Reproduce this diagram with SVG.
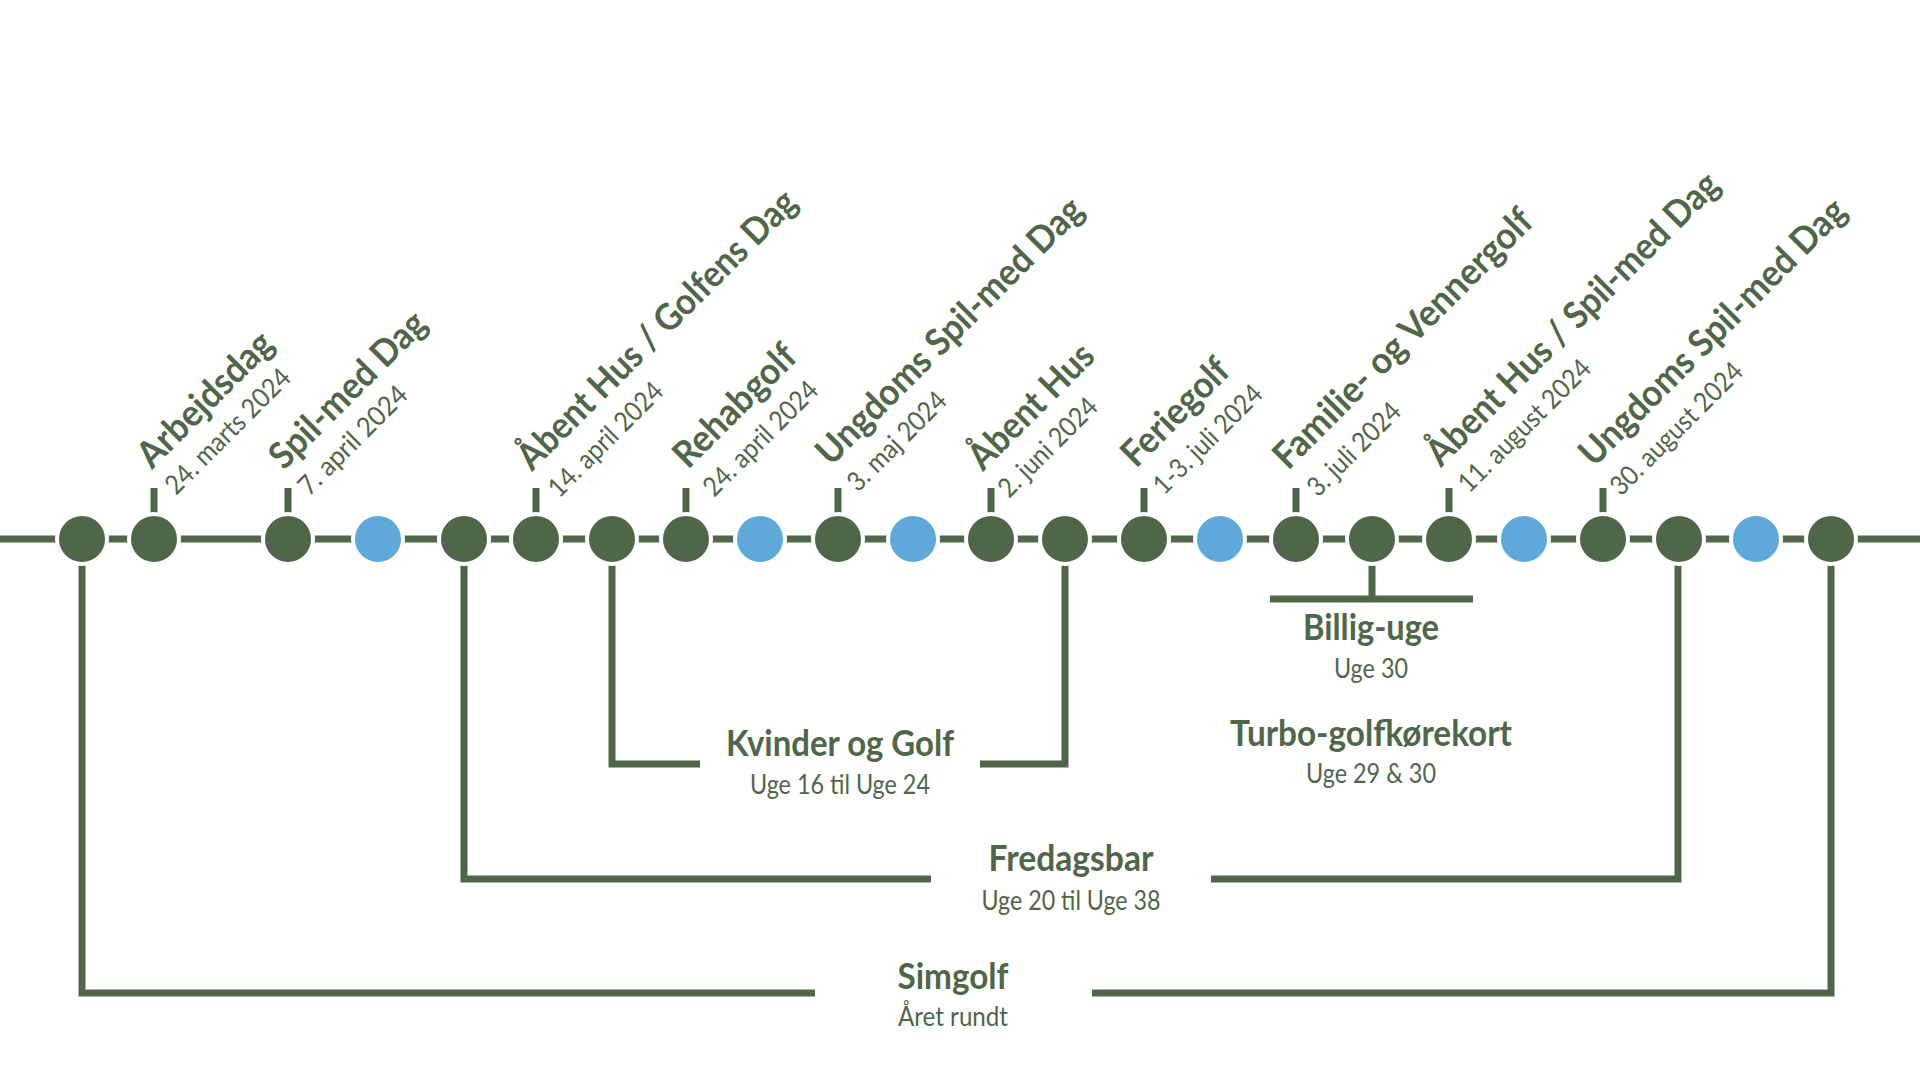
<svg xmlns="http://www.w3.org/2000/svg" width="1920" height="1080" viewBox="0 0 1920 1080">
<style>
.ln{stroke:#4F6649;stroke-width:7;fill:none;stroke-linecap:butt;stroke-linejoin:miter}
.dot{fill:#4F6649;stroke:#FFFFFF;stroke-width:4}
.blue{fill:#5FA8DA;stroke:#FFFFFF;stroke-width:4}
text{font-family:Lato,"Open Sans","Liberation Sans",sans-serif;fill:#4F6649}
.b{font-weight:700;font-size:37px}
.r{font-weight:400;font-size:27px}
.hb{font-weight:700;font-size:36px;text-anchor:middle}
.hr{font-weight:400;font-size:26px;text-anchor:middle}
</style>
<rect width="1920" height="1080" fill="#FFFFFF"/>
<g id="connectors">
  <path class="ln" d="M0 539 H1920"/>
  <path class="ln" d="M154 488 V516 M288 488 V516 M536 488 V516 M686 488 V516 M838 488 V516 M991 488 V516 M1144 488 V516 M1296 488 V516 M1449 488 V516 M1603 488 V516"/>
  <path class="ln" d="M82 539 V993 H815 M1092 993 H1831 V539"/>
  <path class="ln" d="M464 539 V879 H931 M1211 879 H1678 V539"/>
  <path class="ln" d="M612 539 V764 H700 M980 764 H1065 V539"/>
  <path class="ln" d="M1372 539 V599 M1270 599 H1473"/>
</g>
<g id="n01"><circle class="dot" cx="82" cy="539" r="25"/></g>
<g id="n02"><circle class="dot" cx="154" cy="539" r="25"/>
  <text class="b" transform="translate(152 470) rotate(-45)" textLength="175" lengthAdjust="spacingAndGlyphs">Arbejdsdag</text>
  <text class="r" transform="translate(176 496) rotate(-45)" textLength="165" lengthAdjust="spacingAndGlyphs">24. marts 2024</text></g>
<g id="n03"><circle class="dot" cx="288" cy="539" r="25"/>
  <text class="b" transform="translate(284 471) rotate(-45)" textLength="205" lengthAdjust="spacingAndGlyphs">Spil-med Dag</text>
  <text class="r" transform="translate(309 497) rotate(-45)" textLength="142" lengthAdjust="spacingAndGlyphs">7. april 2024</text></g>
<g id="n04"><circle class="blue" cx="378" cy="539" r="25"/></g>
<g id="n05"><circle class="dot" cx="464" cy="539" r="25"/></g>
<g id="n06"><circle class="dot" cx="536" cy="539" r="25"/>
  <text class="b" transform="translate(532 472) rotate(-45)" textLength="378" lengthAdjust="spacingAndGlyphs">Åbent Hus / Golfens Dag</text>
  <text class="r" transform="translate(559 499) rotate(-45)" textLength="150" lengthAdjust="spacingAndGlyphs">14. april 2024</text></g>
<g id="n07"><circle class="dot" cx="612" cy="539" r="25"/></g>
<g id="n08"><circle class="dot" cx="686" cy="539" r="25"/>
  <text class="b" transform="translate(688 470) rotate(-45)" textLength="157" lengthAdjust="spacingAndGlyphs">Rehabgolf</text>
  <text class="r" transform="translate(714 498) rotate(-45)" textLength="150" lengthAdjust="spacingAndGlyphs">24. april 2024</text></g>
<g id="n09"><circle class="blue" cx="760" cy="539" r="25"/></g>
<g id="n10"><circle class="dot" cx="838" cy="539" r="25"/>
  <text class="b" transform="translate(831 467) rotate(-45)" textLength="360" lengthAdjust="spacingAndGlyphs">Ungdoms Spil-med Dag</text>
  <text class="r" transform="translate(858 493) rotate(-45)" textLength="128" lengthAdjust="spacingAndGlyphs">3. maj 2024</text></g>
<g id="n11"><circle class="blue" cx="913" cy="539" r="25"/></g>
<g id="n12"><circle class="dot" cx="991" cy="539" r="25"/>
  <text class="b" transform="translate(983 472) rotate(-45)" textLength="161" lengthAdjust="spacingAndGlyphs">Åbent Hus</text>
  <text class="r" transform="translate(1009 499) rotate(-45)" textLength="128" lengthAdjust="spacingAndGlyphs">2. juni 2024</text></g>
<g id="n13"><circle class="dot" cx="1065" cy="539" r="25"/></g>
<g id="n14"><circle class="dot" cx="1144" cy="539" r="25"/>
  <text class="b" transform="translate(1136 469) rotate(-45)" textLength="136" lengthAdjust="spacingAndGlyphs">Feriegolf</text>
  <text class="r" transform="translate(1164 496) rotate(-45)" textLength="142" lengthAdjust="spacingAndGlyphs">1-3. juli 2024</text></g>
<g id="n15"><circle class="blue" cx="1220" cy="539" r="25"/></g>
<g id="n16"><circle class="dot" cx="1296" cy="539" r="25"/>
  <text class="b" transform="translate(1288 471) rotate(-45)" textLength="350" lengthAdjust="spacingAndGlyphs">Familie- og Vennergolf</text>
  <text class="r" transform="translate(1318 498) rotate(-45)" textLength="120" lengthAdjust="spacingAndGlyphs">3. juli 2024</text></g>
<g id="n17"><circle class="dot" cx="1372" cy="539" r="25"/></g>
<g id="n18"><circle class="dot" cx="1449" cy="539" r="25"/>
  <text class="b" transform="translate(1441 468) rotate(-45)" textLength="397" lengthAdjust="spacingAndGlyphs">Åbent Hus / Spil-med Dag</text>
  <text class="r" transform="translate(1469 494) rotate(-45)" textLength="175" lengthAdjust="spacingAndGlyphs">11. august 2024</text></g>
<g id="n19"><circle class="blue" cx="1524" cy="539" r="25"/></g>
<g id="n20"><circle class="dot" cx="1603" cy="539" r="25"/>
  <text class="b" transform="translate(1594 468) rotate(-45)" textLength="360" lengthAdjust="spacingAndGlyphs">Ungdoms Spil-med Dag</text>
  <text class="r" transform="translate(1621 497) rotate(-45)" textLength="175" lengthAdjust="spacingAndGlyphs">30. august 2024</text></g>
<g id="n21"><circle class="dot" cx="1679" cy="539" r="25"/></g>
<g id="n22"><circle class="blue" cx="1756" cy="539" r="25"/></g>
<g id="n23"><circle class="dot" cx="1831" cy="539" r="25"/></g>
<g id="kvinder">
  <text class="hb" x="840" y="756" textLength="228" lengthAdjust="spacingAndGlyphs">Kvinder og Golf</text>
  <text class="hr" x="840" y="794" textLength="180" lengthAdjust="spacingAndGlyphs">Uge 16 til Uge 24</text></g>
<g id="fredagsbar">
  <text class="hb" x="1071" y="871" textLength="165" lengthAdjust="spacingAndGlyphs">Fredagsbar</text>
  <text class="hr" x="1071" y="910" textLength="179" lengthAdjust="spacingAndGlyphs">Uge 20 til Uge 38</text></g>
<g id="simgolf">
  <text class="hb" x="953" y="989" textLength="111" lengthAdjust="spacingAndGlyphs">Simgolf</text>
  <text class="hr" x="953" y="1026" textLength="110" lengthAdjust="spacingAndGlyphs">Året rundt</text></g>
<g id="billig">
  <text class="hb" x="1371" y="640" textLength="136" lengthAdjust="spacingAndGlyphs">Billig-uge</text>
  <text class="hr" x="1371" y="678" textLength="74" lengthAdjust="spacingAndGlyphs">Uge 30</text></g>
<g id="turbo">
  <text class="hb" x="1371" y="746" textLength="282" lengthAdjust="spacingAndGlyphs">Turbo-golfkørekort</text>
  <text class="hr" x="1371" y="783" textLength="130" lengthAdjust="spacingAndGlyphs">Uge 29 &amp; 30</text></g>
</svg>
